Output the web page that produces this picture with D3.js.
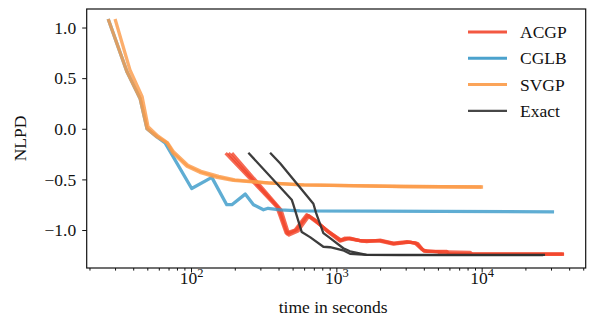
<!DOCTYPE html>
<html>
<head>
<meta charset="utf-8">
<script src="https://cdn.jsdelivr.net/npm/d3@7"></script>
<style>
  body { margin: 0; background: #fff; }
  svg text { font-family: "Liberation Serif", "Times New Roman", serif; fill: #111; }
</style>
</head>
<body>
<svg id="chart" width="590" height="324"></svg>
<script>
// methods, legend order = draw order
const methodNames = ["ACGP", "CGLB", "SVGP", "Exact"];
const methodColors = ["#f2462c", "#3798c8", "#fb9a47", "#333333"];

// each run is a list of [seconds, NLPD]
const acgpRun1 = [[173, -0.24], [389, -0.77], [451, -1.03], [520, -1.0], [625, -0.85], [695, -0.9], [859, -1.0], [1060, -1.1], [1148, -1.08], [1381, -1.1], [1617, -1.115], [1999, -1.1], [2468, -1.13], [3052, -1.115], [3483, -1.13], [3874, -1.19], [4190, -1.21], [5754, -1.21], [5970, -1.237], [36900, -1.237]];
const acgpRun2 = [[191, -0.24], [416, -0.8], [472, -1.05], [545, -1.01], [649, -0.86], [725, -0.91], [877, -1.02], [1060, -1.11], [1242, -1.08], [1503, -1.11], [1999, -1.11], [2468, -1.14], [3214, -1.12], [3648, -1.135], [4018, -1.21], [8318, -1.22], [8590, -1.237], [36900, -1.237]];
const acgpRun3 = [[181, -0.24], [400, -0.78], [460, -1.04], [530, -1.0], [635, -0.855], [710, -0.9], [870, -1.01], [1080, -1.1], [1200, -1.08], [1450, -1.105], [2000, -1.105], [2500, -1.135], [3100, -1.12], [3550, -1.13], [3950, -1.2], [5000, -1.215], [5300, -1.237], [36000, -1.237]];

const cglbRun1 = [[26.9, 1.084], [36.3, 0.56], [44.6, 0.3], [49.8, 0.0], [58.3, -0.08], [66.3, -0.14], [101, -0.59], [139, -0.48], [176, -0.75], [191, -0.75], [236, -0.645], [269, -0.75], [315, -0.8], [339, -0.785], [410, -0.8], [562, -0.81], [31500, -0.82]];

const svgpRun1 = [[26.9, 1.084], [36.3, 0.56], [44.6, 0.3], [49.8, 0.0], [58.3, -0.08], [68.4, -0.14], [75.2, -0.24], [93.8, -0.37], [115, -0.43], [151, -0.48], [195, -0.51], [333, -0.535], [562, -0.555], [2742, -0.57], [10230, -0.575]];
const svgpRun2 = [[30.0, 1.084], [38.0, 0.58], [46.0, 0.32], [50.6, 0.02], [59, -0.07], [69, -0.14], [76, -0.23], [95, -0.36], [117, -0.42], [155, -0.47], [200, -0.505], [340, -0.535], [600, -0.555], [3000, -0.57], [10000, -0.575]];

const exactRun1 = [[248, -0.237], [493, -0.7], [506, -0.75], [578, -1.02], [659, -1.07], [814, -1.165], [906, -1.17], [1112, -1.2], [1242, -1.235], [1617, -1.245], [2742, -1.248], [26500, -1.248]];
const exactRun2 = [[350, -0.237], [410, -0.34], [695, -0.74], [725, -0.83], [814, -1.03], [906, -1.08], [1117, -1.18], [1242, -1.21], [1617, -1.245], [27300, -1.245]];

const runsByMethod = [
    [acgpRun1, acgpRun2, acgpRun3],
    [cglbRun1],
    [svgpRun1, svgpRun2],
    [exactRun1, exactRun2]
];

const xMajorTicks = [100, 1000, 10000];
const yTicks = [-1.0, -0.5, 0.0, 0.5, 1.0];

const plot = { left: 86.7, right: 585.7, top: 9, bottom: 268 };

const svg = d3.select("#chart");

const scale_x = d3.scaleLog()
    .domain([19.14, 52000])
    .range([plot.left, plot.right]);

const scale_y = d3.scaleLinear()
    .domain([-1.375, 1.183])
    .range([plot.bottom, plot.top]);

// clip so nothing leaks out of the frame
svg.append("clipPath")
    .attr("id", "plot-clip")
    .append("rect")
    .attr("x", plot.left)
    .attr("y", plot.top)
    .attr("width", plot.right - plot.left)
    .attr("height", plot.bottom - plot.top);

const line = d3.line()
    .x(d => scale_x(d[0]))
    .y(d => scale_y(d[1]));

const lineGroup = svg.append("g").attr("clip-path", "url(#plot-clip)");

runsByMethod.forEach((runs, i) => {
    lineGroup.append("g")
        .selectAll("path")
        .data(runs)
        .join("path")
        .attr("d", line)
        .attr("fill", "none")
        .attr("stroke", methodColors[i])
        .attr("stroke-width", i === 3 ? 2.3 : 3.3)
        .attr("stroke-opacity", i === 3 ? 0.95 : 0.8)
        .attr("stroke-linejoin", "round");
});

// x axis: major ticks with 10^n labels, minor ticks without labels
const xMinorTicks = scale_x.ticks().filter(d => !xMajorTicks.includes(d));

const xAxisMajor = svg.append("g")
    .attr("transform", `translate(0,${plot.bottom})`)
    .call(d3.axisBottom(scale_x).tickValues(xMajorTicks).tickSize(4.5).tickFormat(""));

svg.append("g")
    .attr("transform", `translate(0,${plot.bottom})`)
    .call(d3.axisBottom(scale_x).tickValues(xMinorTicks).tickSize(2.6).tickFormat(""));

xAxisMajor.selectAll(".tick text").remove();
xAxisMajor.selectAll(".tick").each(function (d) {
    const label = d3.select(this).append("text")
        .attr("y", 15.5)
        .attr("text-anchor", "middle")
        .attr("font-size", 17.5);
    label.append("tspan").text("10");
    label.append("tspan")
        .attr("font-size", 12.5)
        .attr("dy", "-0.55em")
        .text(Math.round(Math.log10(d)));
});

// y axis
svg.append("g")
    .attr("class", "y-axis")
    .attr("transform", `translate(${plot.left},0)`)
    .call(d3.axisLeft(scale_y).tickValues(yTicks).tickSize(4.5).tickPadding(6).tickFormat(d3.format(".1f")))
    .selectAll("text")
    .attr("font-size", 17.5);

svg.selectAll(".domain").remove();
svg.selectAll(".tick line").attr("stroke", "#111").attr("stroke-width", 1);

// frame
svg.append("rect")
    .attr("x", plot.left)
    .attr("y", plot.top)
    .attr("width", plot.right - plot.left)
    .attr("height", plot.bottom - plot.top)
    .attr("fill", "none")
    .attr("stroke", "#111")
    .attr("stroke-width", 1.2);

// axis labels
svg.append("text")
    .attr("x", (plot.left + plot.right) / 2 - 3)
    .attr("y", 313)
    .attr("text-anchor", "middle")
    .attr("font-size", 17.5)
    .text("time in seconds");

svg.append("text")
    .attr("transform", `translate(26,${(plot.top + plot.bottom) / 2}) rotate(-90)`)
    .attr("text-anchor", "middle")
    .attr("font-size", 17.5)
    .text("NLPD");

// legend
const legend = svg.append("g").attr("transform", "translate(468,32)");

const legendItems = legend.selectAll(".legend-item")
    .data(methodNames)
    .join("g")
    .attr("class", "legend-item")
    .attr("transform", (d, i) => `translate(0,${i * 26.3})`);

legendItems.append("line")
    .attr("x1", 0)
    .attr("x2", 39)
    .attr("y1", 0)
    .attr("y2", 0)
    .attr("stroke", (d, i) => methodColors[i])
    .attr("stroke-width", (d, i) => i === 3 ? 2.4 : 3)
    .attr("stroke-opacity", 0.9);

legendItems.append("text")
    .attr("x", 52)
    .attr("y", 6)
    .attr("font-size", 17.5)
    .text(d => d);
</script>
</body>
</html>
